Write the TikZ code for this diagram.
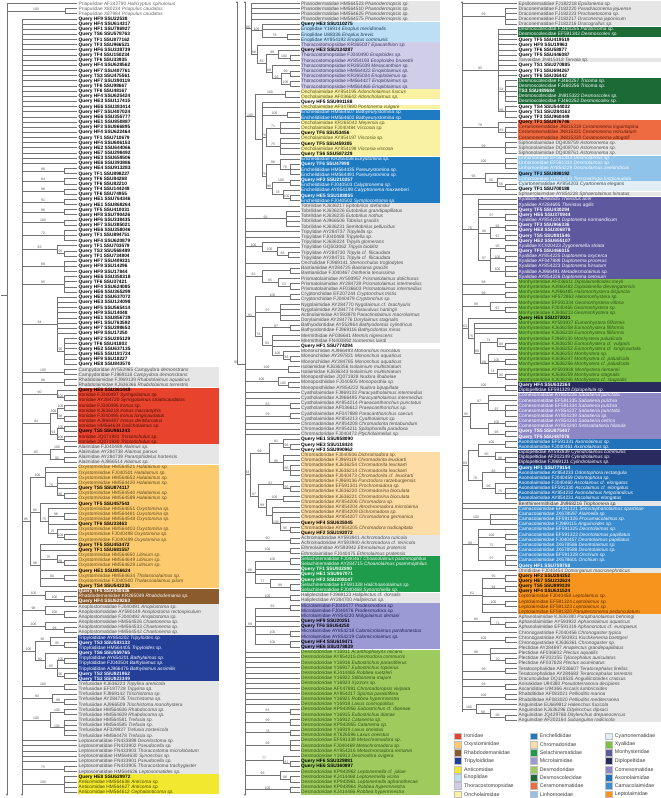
\documentclass[tikz,border=0pt]{standalone}
\usepackage{fontspec}
\setmainfont{Liberation Sans}
\usetikzlibrary{arrows.meta}
\definecolor{bGray}{HTML}{E6E6E6}
\definecolor{cIron}{HTML}{E8432D}
\definecolor{cOxy}{HTML}{FDCB6E}
\definecolor{cRhab}{HTML}{8C5B2B}
\definecolor{cTrip}{HTML}{243F98}
\definecolor{cAnti}{HTML}{F2E830}
\definecolor{cEnop}{HTML}{BCDFF5}
\definecolor{cThor}{HTML}{CFCDE8}
\definecolor{cOnch}{HTML}{F8F2A2}
\definecolor{cEnch}{HTML}{1F7BC1}
\definecolor{cChrom}{HTML}{FDDCA6}
\definecolor{cSela}{HTML}{1E9B4B}
\definecolor{cMicro}{HTML}{9B9AD4}
\definecolor{cDesmod}{HTML}{9DCB5E}
\definecolor{cDesmo}{HTML}{1C6B37}
\definecolor{cCeram}{HTML}{EE6A40}
\definecolor{cLinh}{HTML}{8FC3EA}
\definecolor{cCyart}{HTML}{E1EEF6}
\definecolor{cXya}{HTML}{5E599F}
\definecolor{cMonh}{HTML}{7BBF45}
\definecolor{cDiplo}{HTML}{292B5E}
\definecolor{cComes}{HTML}{8E87C6}
\definecolor{cAxon}{HTML}{2272B9}
\definecolor{cCama}{HTML}{3B8DD0}
\definecolor{cLepto}{HTML}{F7941E}
\definecolor{tGray}{HTML}{4D4D4D}
\definecolor{tIron}{HTML}{4A0E06}
\definecolor{tOxy}{HTML}{5C4A1E}
\definecolor{tAnti}{HTML}{4A4500}
\definecolor{tEnop}{HTML}{1F3D5C}
\definecolor{tThor}{HTML}{3A3A66}
\definecolor{tOnch}{HTML}{55501A}
\definecolor{tChrom}{HTML}{5C4526}
\definecolor{tMicro}{HTML}{1F1F5C}
\definecolor{tDesmod}{HTML}{2A5212}
\definecolor{tCeram}{HTML}{5C1A0A}
\definecolor{tCyart}{HTML}{3A4A55}
\definecolor{tLepto}{HTML}{5C2A00}
\tikzset{
 br/.style={draw=black!55,line width=0.4pt},
 arr/.style={draw=black!55,line width=0.4pt,-{Stealth[length=2.4pt,width=2.2pt]}},
 lab/.style={anchor=base west,inner sep=0pt,font=\fontsize{4.8}{5}\selectfont},
 sup/.style={anchor=south,inner sep=0.25pt,text=black!65,font=\fontsize{3.5}{3.5}\selectfont},
 legt/.style={anchor=west,inner sep=0pt,text=black!75,font=\fontsize{5.3}{6}\selectfont},
}
\newcommand\Y[1]{\cy+(#1-1)*\cs}
\newcommand\Tip[2]{\draw[br] (#1,{\Y{#2}}) -- (\xT,{\Y{#2}});}
\newcommand\Cl[5]{\draw[br] (#2,{\Y{#3}}) -- (#2,{\Y{#4}});
 \draw[br] (#1,{\Y{(#3+#4)/2}}) -- (#2,{\Y{(#3+#4)/2}});
 \node[sup] at ({(#1+#2)/2},{\Y{(#3+#4)/2}}) {#5};}
\newcommand\Cll[5]{\Cl{#1}{#2}{#3}{#4}{#5}\foreach \k in {#3,...,#4}{\Tip{#2}{\k}}}
\newcommand\Bd[3]{\fill[#3] (\xB,{\Y{#1}-0.5*\cs+0.2}) rectangle (\xE,{\Y{#2}+0.5*\cs-0.2});}
\newcommand\Lf[2]{\node[lab,text=\tc] (\cid#1) at (\xL,{\Y{#1}+1.7}) {#2};}
\newcommand\Qy[1]{\textbf{\textcolor{\qc}{Query #1}}}
\newcommand\Gn[1]{\textit{#1}}
\newcommand\Tcol[2]{\def\tc{#1}\def\qc{#2}}
\newcommand\Ql[2]{\Lf{#1}{\Qy{#2}}}
\newcommand\F[3]{\Lf{#1}{#2 \Gn{#3}}}
\newcommand\Col[6]{\def\cid{#1}\def\cs{#2}\def\xT{#3}\def\xB{#4}\def\xE{#5}\def\xL{#6}\def\cy{3.3}}
\newcommand\Leg[4]{\fill[#3,draw=black!25,line width=0.2pt] (#1,#2-3.4) rectangle (#1+7.2,#2+3.4);
 \node[legt] at (#1+10,#2) {#4};}
\begin{document}
\begin{tikzpicture}[x=1pt,y=-1pt]
\fill[white] (0,0) rectangle (661,798);
\useasboundingbox (0,0) rectangle (661,798);
%================ COLUMN 1
\Col{a}{5.155}{77}{78}{219}{78.5}
\Bd{72}{75}{bGray}\Bd{76}{86}{cIron}\Bd{87}{90}{bGray}\Bd{91}{114}{cOxy}
\Bd{115}{117}{cRhab}\Bd{118}{123}{bGray}\Bd{124}{132}{cTrip}\Bd{133}{143}{bGray}
\Bd{144}{150}{bGray}\Bd{151}{154}{cAnti}
% tree
\draw[br] (1,295) -- (7,295);
\draw[arr] (7,{\Y{1}}) -- (7,796);
\draw[arr] (22,{\Y{4}}) -- (22,796);
\Tip{7}{1}
\Cll{7}{65}{2}{3}{100}
\foreach \k in {4,...,32}{\Tip{22}{\k}}
\Cll{22}{64}{33}{34}{96}\Cll{22}{64}{35}{36}{84}\Cll{22}{64}{37}{38}{98}
\Cll{22}{64}{39}{40}{91}\Cll{22}{64}{41}{42}{98}\Cll{22}{64}{43}{44}{100}
\Cll{22}{64}{45}{47}{72}
\Cl{22}{57}{48}{49.5}{83}\Tip{57}{48}\Cll{57}{64}{49}{50}{95}
\Cll{22}{64}{51}{53}{88}\Cll{22}{64}{54}{57}{95}
\Cl{22}{57}{58}{68.5}{94}\foreach \k in {58,...,65}{\Tip{57}{\k}}\Cll{57}{64}{66}{71}{95}
\Cll{22}{64}{72}{73}{100}\Cll{22}{64}{74}{75}{88}
\Cl{22}{57}{76}{77.5}{90}\Tip{57}{76}\Cll{57}{64}{77}{78}{100}
\Cl{22}{50}{80.5}{84.5}{94}\Cl{50}{57}{79.5}{81.5}{100}\Cll{57}{64}{79}{80}{100}\Cll{57}{64}{81}{82}{98}
\Cl{50}{57}{83.5}{85.5}{91}\Cll{57}{64}{83}{84}{100}\Cll{57}{64}{85}{86}{100}
\Cl{22}{50}{87.5}{89.5}{85}\Cll{50}{64}{87}{88}{100}\Cll{50}{64}{89}{90}{90}
\Cl{22}{30}{92.875}{110}{85}
\Cl{30}{45}{91}{94.75}{100}\Tip{45}{91}\Tip{45}{92}\Cl{45}{57}{93}{96.5}{75}\Tip{57}{93}\Tip{57}{94}\Tip{57}{95}\Cll{57}{64}{96}{97}{80}
\Cl{30}{40}{98}{101.375}{80}\Tip{40}{98}\Cl{40}{48}{99}{103.75}{75}\Tip{48}{99}\Cll{48}{64}{100}{101}{98}\Tip{48}{102}
\Cl{48}{57}{103}{104.5}{75}\Tip{57}{103}\Cll{57}{64}{104}{105}{100}
\Cl{30}{40}{106}{114}{98}\Tip{40}{106}\Tip{40}{107}\Cl{40}{57}{108}{109.5}{75}\Tip{57}{108}\Cll{57}{64}{109}{110}{88}
\Tip{40}{111}\Cll{40}{64}{112}{113}{80}\Tip{40}{114}
\Cl{22}{45}{115}{116.5}{100}\Tip{45}{115}\Cll{45}{64}{116}{117}{100}
\Cl{22}{45}{118}{119.5}{98}\Tip{45}{118}\Cll{45}{64}{119}{120}{100}
\Cl{22}{45}{121}{122.5}{100}\Tip{45}{121}\Cll{45}{64}{122}{123}{98}
\Cl{22}{35}{124.75}{128.5}{100}\Cl{35}{50}{124}{125.5}{95}\Tip{50}{124}\Cll{50}{64}{125}{126}{95}
\Cl{35}{45}{127}{130}{92}\Tip{45}{127}\Cl{45}{57}{128.5}{131.5}{65}\Cll{57}{64}{128}{129}{100}\Tip{57}{130}\Cll{57}{64}{131}{132}{95}
\Cll{22}{64}{133}{134}{100}\Cl{22}{52}{135}{136.5}{94}\Tip{52}{135}\Cll{52}{64}{136}{137}{98}
\Cl{22}{50}{138.5}{141.5}{100}\Cll{50}{64}{138}{139}{100}\Cll{50}{64}{140}{143}{100}
\foreach \k in {144,...,148}{\Tip{22}{\k}}\Cll{22}{64}{149}{150}{75}
\Cll{22}{64}{151}{154}{100}
% labels
\Tcol{black!60}{black}
\F{1}{Priapulidae AF342790}{Halicryptus spinulosus}
\F{2}{Priapulidae X80234}{Priapulus caudatus}
\F{3}{Priapulidae X87984}{Priapulus caudatus}
\Tcol{black}{black}
\foreach \r/\q in {4/HF9 SSU22538,5/HF4 SSU614317,6/HF1 SSU786927,7/TS6 SSU578763,8/TF1 SSU877162,9/TF3 SSU966521,10/HF6 SSU338739,11/TF4 SSU150234,12/TF6 SSU33935,13/HF4 SSU628562,14/HF7 SSU407761,15/TS3 SSU475561,16/HF7 SSU390119,17/TF6 SSU98667,18/TF6 SSU48167,19/HF4 SSU625424,20/HE3 SSU117415,21/HE6 SSU383414,22/HF7 SSU407024,23/HE6 SSU355777,24/HE1 SSU850887,25/HF3 SSU866895,26/HF4 SSU622464,27/TF1 SSU710679,28/HF4 SSU606153,29/HE2 SSU644066,30/HE7 SSU298492,31/HE3 SSU659506,32/HE6 SSU393886,33/HE4 SSU913283,34/TF1 SSU898227,35/TF6 SSU84268,36/TF6 SSU82210,37/TF4 SSU144249,38/TF6 SSU74955,39/HE1 SSU764346,40/HE1 SSU868264,41/TF5 SSU410031,42/HF8 SSU790426,43/HF6 SSU338435,44/HF7 SSU385021,45/HE6 SSU358046,46/TF1 SSU894751,47/HF4 SSU620879,48/TF1 SSU703579,49/TS3 SSU568489,50/TF1 SSU734804,51/HF7 SSU409331,52/HF9 SSU14296,53/HF9 SSU17844,54/HE6 SSU358318,55/TF6 SSU37421,56/HF4 SSU624085,57/HE6 SSU365299,58/HE2 SSU637072,59/HE3 SSU124098,60/HF5 SSU565414,61/HF9 SSU14048,62/HE1 SSU856739,63/HF1 SSU763592,64/HF7 SSU398653,65/HF9 SSU17250,66/HF2 SSU205129,67/TF6 SSU41803,68/HE2 SSU637135,69/HE5 SSU181724,70/HF9 SSU18227,71/HE8 SSU843570}{\Ql{\r}{\q}}
\Tcol{tGray}{black}
\F{72}{Campydoridae AY552965}{Campydora demonstrans}
\F{73}{Campydoridae FJ969118}{Campydora demonstrans}
\F{74}{Rhabdolaimidae FJ969139}{Rhabdolaimus aquaticus}
\F{75}{Rhabdolaimidae KJ636366}{Rhabdolaimus terrestris}
\Tcol{tIron}{black}
\Ql{76}{HE6 SSU361449}
\F{77}{Ironidae FJ040497}{Syringolaimus sp.}
\F{78}{Ironidae AY284720}{Syringolaimus striatocaudatus}
\F{79}{Ironidae FJ040496}{Ironus sp.}
\F{80}{Ironidae KJ636218}{Ironus macramphis}
\F{81}{Ironidae FJ040495}{Ironus longicaudatus}
\F{82}{Ironidae AJ966487}{Ironus dentifurcatus}
\F{83}{Ironidae HM564634}{Dolicholaimus sp.}
\Ql{84}{TS5 SSU961243}
\F{85}{Ironidae JQ071931}{Trissonchulus sp.}
\F{86}{Ironidae JQ071930}{Trissonchulus sp.}
\Tcol{tGray}{black}
\F{87}{Alaimidae FJ040489}{Alaimus sp.}
\F{88}{Alaimidae AY284738}{Alaimus parvus}
\F{89}{Alaimidae AY284739}{Paramphidelus hortensis}
\F{90}{Alaimidae AJ966514}{Alaimus sp.}
\Tcol{tOxy}{black}
\F{91}{Oxystominidae HM564521}{Halalaimus sp.}
\F{92}{Oxystominidae FJ040501}{Halalaimus sp.}
\F{93}{Oxystominidae HM564652}{Halalaimus sp.}
\F{94}{Oxystominidae HM564420}{Halalaimus sp.}
\Ql{95}{TS5 SSU874117}
\F{96}{Oxystominidae HM564540}{Halalaimus sp.}
\F{97}{Oxystominidae HM564589}{Halalaimus sp.}
\Ql{98}{TF5 SSU457543}
\F{99}{Oxystominidae HM564651}{Oxystomina sp.}
\F{100}{Oxystominidae HM564481}{Oxystomina sp.}
\F{101}{Oxystominidae HM564548}{Oxystomina sp.}
\Ql{102}{TF6 SSU33463}
\F{103}{Oxystominidae HM564403}{Oxystomina sp.}
\F{104}{Oxystominidae FJ040498}{Oxystomina sp.}
\F{105}{Oxystominidae FJ040499}{Oxystomina sp.}
\Ql{106}{TF5 SSU453472}
\Ql{107}{TF1 SSU681557}
\F{108}{Oxystominidae HM564650}{Litinium sp.}
\F{109}{Oxystominidae HM564649}{Litinium sp.}
\F{110}{Oxystominidae HM564629}{Litinium sp.}
\Ql{111}{HE1 SSU856624}
\F{112}{Oxystominidae HM564634}{Thalassoalaimus sp.}
\F{113}{Oxystominidae FJ040500}{Thalassoalaimus pilum}
\Ql{114}{TS4 SSU543236}
\Tcol{white}{white}
\Ql{115}{TF5 SSU440436}
\F{116}{Rhabdodemaniidae KR265049}{Rhabdodemania sp.}
\Ql{117}{HF4 SSU629263}
\Tcol{tGray}{black}
\F{118}{Anoplostomatidae FJ040491}{Anoplostoma sp.}
\F{119}{Anoplostomatidae AY590149}{Anoplostoma rectospiculum}
\F{120}{Anoplostomatidae FJ040492}{Anoplostoma sp.}
\F{121}{Anoplostomatidae HM564526}{Chaetonema sp.}
\F{122}{Anoplostomatidae HM564533}{Chaetonema sp.}
\F{123}{Anoplostomatidae HM564542}{Chaetonema sp.}
\Tcol{white}{white}
\F{124}{Tripyloididae AY854202}{Tripyloides sp.}
\Ql{125}{TS3 SSU583133}
\F{126}{Tripyloididae HM564405}{Tripyloides sp.}
\Ql{127}{TS6 SSU559765}
\F{128}{Tripyloididae AY854201}{Bathylaimus sp.}
\F{129}{Tripyloididae FJ040504}{Bathylaimus sp.}
\F{130}{Tripyloididae AJ966476}{Bathylaimus assimilis}
\Ql{131}{TS2 SSU821962}
\Ql{132}{TS2 SSU823349}
\Tcol{tGray}{black}
\F{133}{Trefusiidae KJ636223}{Tripylina arenicola}
\F{134}{Trefusiidae EF197728}{Tripylina sp.}
\F{135}{Trefusiidae FJ969142}{Trischistoma sp.}
\F{136}{Trefusiidae AY284735}{Trischistoma sp.}
\F{137}{Trefusiidae AJ966509}{Trischistoma monohystera}
\F{138}{Trefusiidae HM564636}{Rhabdocoma sp.}
\F{139}{Trefusiidae HM564609}{Rhabdocoma sp.}
\F{140}{Trefusiidae HM564581}{Trefusia sp.}
\F{141}{Trefusiidae HM564585}{Trefusia sp.}
\F{142}{Trefusiidae AF329937}{Trefusia zostericola}
\F{143}{Trefusiidae HM564478}{Trefusia sp.}
\F{144}{Leptosomatidae FN433899}{Deontostoma sp.}
\F{145}{Leptosomatidae FN433902}{Pseudocella sp.}
\F{146}{Leptosomatidae FN433903}{Thoracostoma microlobatum}
\F{147}{Leptosomatidae HM564630}{Synonchus sp.}
\F{148}{Leptosomatidae FN433901}{Pseudocella sp.}
\F{149}{Leptosomatidae FN433905}{Thoracostoma trachygaster}
\F{150}{Leptosomatidae HM564626}{Leptosomatides sp.}
\Tcol{tAnti}{black}
\Ql{151}{HE8 SSU629972}
\F{152}{Anticomidae HM564638}{Anticoma sp.}
\F{153}{Anticomidae HM564627}{Anticoma sp.}
\F{154}{Anticomidae HM564612}{Cephalanticoma sp.}
%================ COLUMN 2
\Col{b}{5.19}{300}{300.5}{440}{301}
\Bd{1}{4}{bGray}\Bd{5}{8}{cEnop}\Bd{9}{17}{cThor}\Bd{18}{19}{cOnch}\Bd{21}{21}{cOnch}
\Bd{22}{23}{cEnch}\Bd{24}{30}{cOnch}\Bd{31}{39}{cEnch}\Bd{40}{66}{bGray}\Bd{68}{84}{bGray}
\Bd{88}{103}{cChrom}\Bd{104}{107}{bGray}\Bd{108}{114}{cSela}\Bd{115}{116}{bGray}
\Bd{117}{125}{cMicro}\Bd{126}{153}{cDesmod}
\draw[arr] (237,{\Y{70.5}}) -- (237,1);
\draw[arr] (245,400) -- (245,1);
\draw[arr] (245,400) -- (245,796);
\draw[br] (237,{\Y{70.5}}) -- (245,{\Y{70.5}});
\node[sup] at (236,{\Y{70.5}}) {99};
\Cl{245}{251}{1}{10.75}{88}\foreach \k in {1,...,4}{\Tip{251}{\k}}
\Cl{251}{262}{5}{7.5}{100}\Tip{262}{5}\Tip{262}{6}\Cll{262}{287}{7}{8}{76}
\Cl{251}{257}{9}{12.5}{88}\Tip{257}{9}\Cl{257}{266}{10.75}{14.25}{83}
\Cl{266}{278}{10}{11.5}{99}\Tip{278}{10}\Cll{278}{290}{11}{12}{100}
\Cl{266}{272}{13}{15.5}{88}\Tip{272}{13}\Cl{272}{281}{14.5}{16.5}{93}\Cll{281}{290}{14}{15}{99}\Cll{281}{290}{16}{17}{100}
\Cl{245}{255}{18.5}{27.16}{100}\Cll{255}{285}{18}{19}{100}
\Cl{255}{262}{20}{34.31}{}\Tip{262}{20}\Tip{262}{21}\Cll{262}{287}{22}{23}{100}
\Cl{262}{266}{25}{28.5}{76}\Cll{266}{280}{24}{26}{71}\Cll{266}{280}{27}{30}{75}
\Cl{262}{266}{32}{36.625}{75}\Cl{266}{280}{31}{33}{88}\Tip{280}{31}\Cll{280}{290}{32}{34}{76}
\Cl{266}{272}{35.5}{37.75}{88}\Cll{272}{290}{35}{36}{100}\Cl{272}{283}{37}{38.5}{78}\Tip{283}{37}\Cll{283}{290}{38}{39}{100}
\Tip{245}{40}\Cll{245}{286}{41}{44}{93}
\Tip{245}{45}\Tip{245}{46}\Cl{245}{262}{47}{48.75}{100}\Tip{262}{47}\Cl{262}{277}{48}{49.5}{100}\Tip{277}{48}\Cll{277}{288}{49}{50}{86}
\Tip{245}{51}
\Cl{245}{262}{52.5}{54.75}{62}\Cll{262}{290}{52}{53}{}\Cl{262}{278}{54}{55.5}{85}\Tip{278}{54}\Cll{278}{290}{55}{56}{53}
\Cl{245}{255}{57.5}{65.19}{91}\Cll{255}{290}{57}{58}{100}\Cll{255}{280}{59}{62}{97}
\Cl{255}{262}{63.5}{66.875}{76}\Cll{262}{290}{63}{64}{97}\Cl{262}{272}{65}{68.75}{93}\Tip{272}{65}\Tip{272}{66}\Tip{272}{67}
\Cl{272}{283}{68}{69.5}{100}\Tip{283}{68}\Cll{283}{290}{69}{70}{86}
\Cll{245}{288}{71}{72}{100}
\Cl{245}{278}{73}{74.5}{100}\Tip{278}{73}\Cll{278}{288}{74}{75}{100}
\Tip{245}{76}\Tip{245}{77}\Cll{245}{290}{78}{79}{83}\Cll{245}{290}{80}{81}{59}
\Tip{245}{82}\Tip{245}{83}\Tip{245}{84}
\Cl{245}{250}{87.6}{95.9}{84}
\Cl{250}{269}{85.75}{89.5}{69}
\Cl{269}{283}{85}{86.5}{91}\Tip{283}{85}\Cll{283}{290}{86}{87}{96}
\Cl{269}{283}{88}{91}{95}\Tip{283}{88}\Tip{283}{89}\Cll{283}{290}{90}{92}{85}
\Cl{250}{258}{93.75}{98.06}{97}
\Cl{258}{283}{93}{94.5}{87}\Tip{283}{93}\Cll{283}{290}{94}{95}{95}
\Cl{258}{266}{96.5}{99.625}{99}\Cll{266}{283}{96}{97}{100}\Cl{266}{272}{98}{101.25}{}\Tip{272}{98}\Tip{272}{99}
\Cl{272}{280}{100}{102.5}{100}\Tip{280}{100}\Tip{280}{101}\Cll{280}{290}{102}{103}{95}
\Cll{245}{290}{104}{105}{90}\Cll{245}{290}{106}{107}{100}
\Cl{245}{255}{108.5}{112.75}{86}\Cll{255}{290}{108}{109}{100}\Tip{255}{110}\Tip{255}{111}
\Cl{255}{270}{112}{113.5}{77}\Tip{270}{112}\Cll{270}{290}{113}{114}{98}
\Cll{245}{290}{115}{116}{100}
\Cl{245}{255}{117.5}{124.5}{99}\Cll{255}{290}{117}{118}{93}\Tip{255}{119}\Tip{255}{120}\Tip{255}{121}
\Cll{255}{290}{122}{123}{100}\Cll{255}{290}{124}{125}{100}
\foreach \k in {126,...,136}{\Tip{245}{\k}}
\Cll{245}{290}{137}{138}{83}\Cll{245}{290}{139}{140}{99}\Cll{245}{290}{141}{142}{78}\Cll{245}{290}{143}{145}{96}
\Cl{245}{283}{146}{147.5}{77}\Tip{283}{146}\Cll{283}{290}{147}{148}{87}
\Cl{245}{280}{149}{150.5}{93}\Tip{280}{149}\Cll{280}{290}{150}{151}{88}
\Cll{245}{290}{152}{153}{100}
% labels
\Tcol{tGray}{black}
\F{1}{Phanodermatidae HM564523}{Phanodermopsis sp.}
\F{2}{Phanodermatidae HM564510}{Phanodermopsis sp.}
\F{3}{Phanodermatidae HM564625}{Phanodermopsis sp.}
\F{4}{Phanodermatidae HM564575}{Phanodermopsis sp.}
\Tcol{tEnop}{black}
\Ql{5}{HE3 SSU110275}
\F{6}{Enoplidae Y16914}{Enoplus meridionalis}
\F{7}{Enoplidae U88336}{Enoplus brevis}
\F{8}{Enoplidae AY854192}{Enoplus communis}
\Tcol{tThor}{black}
\F{9}{Thoracostomopsidae KR265037}{Epacanthion sp.}
\Ql{10}{HE3 SSU124287}
\F{11}{Thoracostomopsidae FJ040490}{Enoploides sp.}
\F{12}{Thoracostomopsidae AY854193}{Enoploides brunettii}
\F{13}{Thoracostomopsidae KR265039}{Mesacanthion sp.}
\F{14}{Thoracostomopsidae HM564422}{Enoplolaimus sp.}
\F{15}{Thoracostomopsidae KR265034}{Enoplolaimus sp.}
\F{16}{Thoracostomopsidae HM564427}{Enoplolaimus sp.}
\F{17}{Thoracostomopsidae HM564466}{Enoplolaimus sp.}
\Tcol{tOnch}{black}
\F{18}{Oncholaimidae AY854195}{Adoncholaimus fuscus}
\F{19}{Oncholaimidae AF036642}{Adoncholaimus sp.}
\Ql{20}{HF5 SSU991188}
\F{21}{Oncholaimidae AF047890}{Pontonema vulgare}
\Tcol{white}{white}
\F{22}{Enchelidiidae HM564507}{Bathyeurystomina sp.}
\F{23}{Enchelidiidae HM564602}{Bathyeurystomina sp.}
\Tcol{tOnch}{black}
\F{24}{Oncholaimidae KR265042}{Meyersia sp.}
\F{25}{Oncholaimidae FJ040484}{Viscosia sp.}
\Ql{26}{TF6 SSU53456}
\F{27}{Oncholaimidae AY854197}{Viscosia sp.}
\Ql{28}{TF5 SSU459305}
\F{29}{Oncholaimidae AY854198}{Viscosia viscosa}
\Ql{30}{TS6 SSU587229}
\Tcol{white}{white}
\F{31}{Enchelidiidae KR265038}{Eurystomina sp.}
\Ql{32}{TF6 SSU47998}
\F{33}{Enchelidiidae HM564435}{Pareurystomina sp.}
\F{34}{Enchelidiidae HM564491}{Pareurystomina sp.}
\Ql{35}{HF2 SSU210357}
\F{36}{Enchelidiidae FJ040503}{Calyptronema sp.}
\F{37}{Enchelidiidae AY854199}{Calyptronema maxweberi}
\Ql{38}{HE5 SSU188855}
\F{39}{Enchelidiidae FJ040502}{Symplocostoma sp.}
\Tcol{tGray}{black}
\F{40}{Tobrilidae KJ636217}{Epitobrilus stefanskii}
\F{41}{Tobrilidae KJ636226}{Eutobrilus grandipapillatus}
\F{42}{Tobrilidae KJ636235}{Eutobrilus nothus}
\F{43}{Tobrilidae AJ966506}{Tobrilus gracilis}
\F{44}{Tobrilidae KJ636231}{Semitobrilus pellucidus}
\F{45}{Tripylidae AY284737}{Tripylella sp.}
\F{46}{Tripylidae FJ040488}{Tripylella sp.}
\F{47}{Tripylidae KJ636224}{Tripyla glomerans}
\F{48}{Tripylidae GQ503062}{Tripyla bioblitz}
\F{49}{Tripylidae AY284730}{Tripyla cf. filicaudata}
\F{50}{Tripylidae AY284731}{Tripyla cf. filicaudata}
\F{51}{Onchulidae FJ969141}{Stenonchulus troglodytes}
\F{52}{Bastianiidae AY284725}{Bastiania gracilis}
\F{53}{Bastianiidae FJ040467}{Dintheria tenuissima}
\F{54}{Prismatolaimidae AY593957}{Prismatolaimus dolichurus}
\F{55}{Prismatolaimidae AY284729}{Prismatolaimus intermedius}
\F{56}{Prismatolaimidae AF036603}{Prismatolaimus intermedius}
\F{57}{Cryptonchidae EF207244}{Cryptonchus tristis}
\F{58}{Cryptonchidae FJ040479}{Cryptonchus sp.}
\F{59}{Nygolaimidae AY284770}{Nygolaimus cf. brachyuris}
\F{60}{Nygolaimidae AY284774}{Paravulvus hartingii}
\F{61}{Actinolaimidae AY593978}{Paractinolaimus macrolaimus}
\F{62}{Dorylaimidae AY284776}{Dorylaimus stagnalis}
\F{63}{Bathyodontidae AY552964}{Bathyodontus cylindricus}
\F{64}{Bathyodontidae FJ969116}{Bathyodontus mirus}
\F{65}{Mermithidae AF036641}{Mermis nigrescens}
\F{66}{Mermithidae FN400892}{Isomermis lairdi}
\Ql{67}{HF1 SSU774294}
\F{68}{Mononchidae AJ966493}{Mononchus truncatus}
\F{69}{Mononchidae AY297821}{Mononchus aquaticus}
\F{70}{Mononchidae AY284765}{Mononchus aquaticus}
\F{71}{Isolaimidae KJ636356}{Isolaimium multistriatum}
\F{72}{Isolaimidae KJ636343}{Isolaimium multistriatum}
\F{73}{Monoposthiidae JQ071928}{Nudora ilhabelae}
\F{74}{Monoposthiidae FJ040505}{Monoposthia sp.}
\F{75}{Monoposthiidae AY854222}{Nudora bipapillata}
\F{76}{Cyatholaimidae FJ969133}{Paracyatholaimus intermedius}
\F{77}{Cyatholaimidae AJ966495}{Paracyatholaimus intermedius}
\F{78}{Cyatholaimidae AY854214}{Praeacanthonchus punctatus}
\F{79}{Cyatholaimidae AF036612}{Praeacanthonchus sp.}
\F{80}{Cyatholaimidae AF047888}{Paracanthonchus caecus}
\F{81}{Cyatholaimidae AY854213}{Cyatholaimus sp.}
\F{82}{Chromadoridae AY854208}{Chromadorita tentabundum}
\F{83}{Chromadoridae AY854211}{Spilophorella paradoxa}
\F{84}{Chromadoridae FJ040472}{Ptycholaimellus sp.}
\Ql{85}{HE1 SSU858090}
\Ql{86}{HE3 SSU118424}
\Ql{87}{HF3 SSU990962}
\Tcol{tChrom}{black}
\F{88}{Chromadoridae FJ040506}{Dichromadora sp.}
\F{89}{Chromadoridae FJ969119}{Chromadorita leuckarti}
\F{90}{Chromadoridae KJ636254}{Chromadorita leuckarti}
\F{91}{Chromadoridae KJ636214}{Chromadorita leuckarti}
\F{92}{Chromadoridae FJ040473}{Chromadorita cf. leuckarti}
\F{93}{Chromadoridae FJ969136}{Punctodora ratzeburgensis}
\F{94}{Chromadoridae EF591341}{Prochromadora sp.}
\F{95}{Chromadoridae KJ636220}{Chromadorina bioculata}
\F{96}{Chromadoridae KJ636221}{Chromadorina bioculata}
\F{97}{Chromadoridae AY854206}{Chromadora sp.}
\F{98}{Chromadoridae AY854204}{Atrochromadora microlaima}
\F{99}{Chromadoridae AY854209}{Dichromadora sp.}
\F{100}{Chromadoridae AY854207}{Chromadorina germanica}
\Ql{101}{HF4 SSU635045}
\F{102}{Chromadoridae AY854205}{Chromadora nudicapitata}
\Ql{103}{HF2 SSU192072}
\Tcol{tGray}{black}
\F{104}{Achromadoridae AY593941}{Achromadora ruricola}
\F{105}{Achromadoridae AY593940}{Achromadora cf. terricola}
\F{106}{Ethmolaimidae AY593942}{Ethmolaimus pratensis}
\F{107}{Ethmolaimidae FJ040475}{Ethmolaimus pratensis}
\Tcol{white}{white}
\F{108}{Selachinematidae FJ040467}{Choanolaimus psammophilus}
\F{109}{Selachinematidae AY284715}{Choanolaimus psammophilus}
\Ql{110}{TF1 SSU932890}
\Ql{111}{HE1 SSU867071}
\Ql{112}{HF2 SSU208147}
\F{113}{Selachinematidae EF591338}{Halichoanolaimus sp.}
\F{114}{Selachinematidae FJ040468}{Synonchiella sp.}
\Tcol{tGray}{black}
\F{115}{Haliplectidae FJ969123}{Haliplectus cf. dorsalis}
\F{116}{Haliplectidae AY284700}{Haliplectus sp.}
\Tcol{tMicro}{black}
\F{117}{Microlaimidae FJ040477}{Prodesmodora sp.}
\F{118}{Microlaimidae FJ040476}{Prodesmodora sp.}
\F{119}{Microlaimidae AY854220}{Molgolaimus demani}
\Ql{120}{HF9 SSU20251}
\Ql{121}{TF6 SSU54250}
\F{122}{Microlaimidae AY854218}{Calomicrolaimus parahonestus}
\F{123}{Microlaimidae AY854219}{Calomicrolaimus sp.}
\Ql{124}{HF4 SSU619471}
\Ql{125}{HE6 SSU378839}
\Tcol{tDesmod}{black}
\F{126}{Desmodoridae Y16911}{Acanthopharynx micans}
\F{127}{Desmodoridae AY854215}{Desmodora communis}
\F{128}{Desmodoridae Y16916}{Eubostrichus parasitiferus}
\F{129}{Desmodoridae Y16917}{Eubostrichus topiarius}
\F{130}{Desmodoridae KJ414465}{Robbea ruetzleri}
\F{131}{Desmodoridae Y16922}{Stilbonema majum}
\F{132}{Desmodoridae Y16923}{Xyzzors sp.}
\F{133}{Desmodoridae AF047891}{Chromadoropsis vivipara}
\F{134}{Desmodoridae AY854217}{Spirinia parasitifera}
\F{135}{Desmodoridae Y16921}{Robbea hypermnestra}
\F{136}{Desmodoridae Y16918}{Laxus cosmopolitus}
\F{137}{Desmodoridae KP943956}{Eubostrichus cf. dianeae}
\F{138}{Desmodoridae Y16915}{Eubostrichus dianae}
\F{139}{Desmodoridae Y16912}{Catanema sp.}
\F{140}{Desmodoridae KP943955}{Catanema sp.}
\F{141}{Desmodoridae Y16919}{Laxus oneistus}
\F{142}{Desmodoridae KT626596}{Laxus oneistus}
\F{143}{Desmodoridae EF591339}{Metachromadora sp.}
\F{144}{Desmodoridae FJ040469}{Metachromadora sp.}
\F{145}{Desmodoridae AY854216}{Metachromadora remanei}
\F{146}{Desmodoridae Y16913}{Desmodora ovigera}
\Ql{147}{HF6 SSU329881}
\Ql{148}{HE6 SSU360897}
\F{149}{Desmodoridae KP943962}{Leptonemella cf. juliae}
\F{150}{Desmodoridae KJ414468}{Leptonemella vicina}
\F{151}{Desmodoridae KP943961}{Leptonemella aphanothecae}
\F{152}{Desmodoridae KP943964}{Robbea hypermnestra}
\F{153}{Desmodoridae KJ414466}{Robbea hypermnestra}
%================ COLUMN 3
\Col{c}{5.156}{517}{518}{661}{518.5}
\Bd{1}{5}{bGray}\Bd{6}{7}{cDesmo}\Bd{12}{12}{bGray}\Bd{16}{20}{cDesmo}\Bd{24}{27}{cCeram}
\Bd{28}{30}{bGray}\Bd{31}{35}{cLinh}\Bd{36}{37}{cCyart}\Bd{38}{38}{bGray}\Bd{39}{54}{cXya}
\Bd{55}{74}{cMonh}\Bd{75}{76}{cDiplo}\Bd{77}{85}{cComes}\Bd{86}{87}{cAxon}\Bd{88}{90}{cDiplo}
\Bd{91}{97}{cAxon}\Bd{98}{98}{bGray}\Bd{99}{110}{cCama}\Bd{111}{111}{bGray}\Bd{112}{119}{cLepto}
\Bd{120}{140}{bGray}
\draw[arr] (462,{\Y{138.375}}) -- (462,1);
\Tip{462}{1}\Cll{462}{505}{2}{5}{69}
\Cl{462}{498}{6}{22}{95}\foreach \k in {6,...,15}{\Tip{498}{\k}}\Cll{498}{505}{16}{20}{54}\Cll{498}{505}{21}{23}{86}
\Cl{462}{498}{24}{26}{79}\Tip{498}{24}\Cll{498}{505}{25}{27}{83}
\Cll{462}{505}{28}{30}{99}\Cll{462}{505}{31}{33}{100}
\Cl{462}{485}{34}{35.75}{96}\Tip{485}{34}\Cl{485}{497}{35}{36.5}{56}\Tip{497}{35}\Cll{497}{505}{36}{37}{56}
\Tip{462}{38}
\Cl{462}{478}{39}{50.75}{76}\Tip{478}{39}\Tip{478}{40}\Tip{478}{41}\Cll{478}{505}{42}{43}{97}
\Cl{478}{490}{44.5}{46.5}{90}\Cll{490}{505}{44}{45}{96}\Cll{490}{505}{46}{47}{97}
\Cl{478}{490}{48.5}{53}{97}\Cll{490}{505}{48}{49}{95}\Cll{490}{505}{50}{51}{100}\Cll{490}{505}{52}{54}{100}
\Cll{462}{505}{55}{56}{98}\Cll{462}{505}{57}{58}{99}\Cl{462}{490}{59}{60.5}{99}\Tip{490}{59}\Cll{490}{505}{60}{61}{97}
\Cl{462}{468}{62}{65.9}{63}\Tip{468}{62}\Cl{468}{474}{63}{68.8}{75}\Tip{474}{63}\Tip{474}{64}\Tip{474}{65}
\Cl{474}{480}{66.75}{70.875}{89}\Cl{480}{497}{66}{67.5}{74}\Tip{497}{66}\Cll{497}{505}{67}{68}{80}
\Cl{480}{488}{69}{72.75}{88}\Tip{488}{69}\Cll{488}{505}{70}{71}{100}\Cl{488}{497}{72}{73.5}{74}\Tip{497}{72}\Cll{497}{505}{73}{74}{95}
\Cll{462}{505}{75}{76}{100}
\Cl{462}{470}{78.5}{83.5}{95}\Cl{470}{488}{77}{80}{97}\Tip{488}{77}\Tip{488}{78}\Cll{488}{505}{79}{81}{97}
\Cl{470}{488}{82.5}{84.5}{}\Cll{488}{505}{82}{83}{100}\Cll{488}{505}{84}{85}{96}
\Cl{462}{468}{87.6}{93.5}{89}\Cl{468}{478}{86.5}{88.75}{}\Cll{478}{505}{86}{87}{100}\Cl{478}{495}{88}{89.5}{85}\Tip{495}{88}\Cll{495}{505}{89}{90}{96}
\Cl{468}{482}{92}{95}{70}\Cll{482}{505}{91}{93}{82}\Cl{482}{495}{94}{96}{96}\Tip{495}{94}\Cll{495}{505}{95}{97}{75}
\Tip{462}{98}\Tip{462}{99}\Cll{462}{490}{100}{102}{100}
\Cl{462}{478}{103}{109}{99}\Tip{478}{103}\Cll{478}{505}{104}{105}{100}\Cll{478}{505}{106}{107}{75}\Cll{478}{505}{108}{110}{97}
\Tip{462}{111}
\Cl{462}{482}{112.5}{119}{62}\Cll{482}{505}{112}{113}{95}\Cll{482}{505}{114}{115}{94}\Tip{482}{116}\Cll{482}{505}{117}{118}{100}\Tip{482}{119}
\Cl{462}{490}{120}{121.5}{85}\Tip{490}{120}\Cll{490}{505}{121}{122}{71}
\Tip{462}{123}\Cll{462}{505}{124}{125}{100}
\Cl{462}{490}{126}{128.5}{98}\Tip{490}{126}\Tip{490}{127}\Cll{490}{505}{128}{129}{70}
\Cll{462}{505}{130}{131}{99}\Tip{462}{132}\Cll{462}{505}{133}{134}{98}\Cll{462}{505}{135}{136}{100}
\Cl{462}{476}{137}{138.75}{100}\Tip{476}{137}\Cl{476}{490}{138}{139.5}{98}\Tip{490}{138}\Cll{490}{505}{139}{140}{98}
% labels
\Tcol{tGray}{black}
\F{1}{Epsilonematidae FJ182218}{Epsilonema sp.}
\F{2}{Draconematidae FJ182220}{Paradraconema jejuense}
\F{3}{Draconematidae FJ182223}{Prochaetosoma sp.}
\F{4}{Draconematidae FJ182217}{Draconema japonicum}
\F{5}{Draconematidae FJ182216}{Dracograllus sp.}
\Tcol{white}{white}
\F{6}{Desmoscolecidae FJ460255}{Paratricoma sp.}
\F{7}{Desmoscolecidae EF591342}{Desmoscolex sp.}
\Tcol{tGray}{black}
\Ql{8}{TF5 SSU419519}
\Ql{9}{HF9 SSU19963}
\Ql{10}{TF6 SSU58877}
\Ql{11}{TF5 SSU446087}
\F{12}{Tarvaiidae JN815318}{Tarvaia sp.}
\Ql{13}{TS1 SSU270885}
\Ql{14}{TF1 SSU694267}
\Ql{15}{TF6 SSU36442}
\Tcol{white}{white}
\F{16}{Desmoscolecidae FJ460257}{Tricoma sp.}
\F{17}{Desmoscolecidae FJ460256}{Tricoma sp.}
\Lf{18}{\textbf{TS3 SSU489684}}
\F{19}{Desmoscolecidae JN815322}{Desmoscolex sp.}
\F{20}{Desmoscolecidae FJ460252}{Desmoscolex sp.}
\Tcol{black}{black}
\Ql{21}{TS4 SSU544032}
\Ql{22}{TS1 SSU284163}
\Ql{23}{TF3 SSU960449}
\Tcol{tCeram}{black}
\Ql{24}{TF1 SSU876746}
\F{25}{Ceramonematidae JN815319}{Ceramonema inguinispina}
\F{26}{Ceramonematidae JN815321}{Ceramonema reticulatum}
\F{27}{Ceramonematidae JN815320}{Ceramonema altogolfi}
\Tcol{tGray}{black}
\F{28}{Siphonolaimidae DQ408759}{Astomonema sp.}
\F{29}{Siphonolaimidae DQ408760}{Astomonema sp.}
\F{30}{Siphonolaimidae DQ408761}{Astomonema sp.}
\Tcol{white}{black}
\F{31}{Linhomoeidae EF591333}{Desmolaimus sp.}
\F{32}{Linhomoeidae EF591332}{Desmolaimus sp.}
\F{33}{Linhomoeidae AY854229}{Desmolaimus zeelandicus}
\Ql{34}{TF1 SSU888192}
\F{35}{Linhomoeidae AY854230}{Terschellingia longicaudata}
\Tcol{tCyart}{black}
\F{36}{Cyartonematidae AY854203}{Cyartonema elegans}
\Ql{37}{TF1 SSU700188}
\Tcol{tGray}{black}
\F{38}{Sphaerolaimidae AY854228}{Sphaerolaimus hirsutus}
\Tcol{white}{white}
\F{39}{Xyalidae AJ966505}{Theristus acer}
\F{40}{Xyalidae AY284695}{Theristus agilis}
\Ql{41}{TF5 SSU430294}
\Ql{42}{HE6 SSU370944}
\F{43}{Xyalidae AY854224}{Daptonema normandicum}
\Ql{44}{TF3 SSU966336}
\Ql{45}{HE8 SSU306878}
\Ql{46}{TS5 SSU881546}
\Ql{47}{HE2 SSU655107}
\F{48}{Xyalidae KC920423}{Zygonemella striata}
\Ql{49}{TF5 SSU466015}
\F{50}{Xyalidae AY854225}{Daptonema oxycerca}
\F{51}{Xyalidae AF047889}{Daptonema procerus}
\F{52}{Xyalidae AY854223}{Daptonema hirsutum}
\F{53}{Xyalidae AJ966491}{Metadesmolaimus sp.}
\F{54}{Xyalidae AY854226}{Daptonema setosum}
\Tcol{tDesmod}{black}
\F{55}{Monhysteridae AF036611}{Diplolaimelloides meyli}
\F{56}{Monhysteridae AJ966482}{Diplolaimella dievengatensis}
\F{57}{Monhysteridae AJ966485}{Halomonhystera disjuncta}
\F{58}{Monhysteridae HF572962}{Halomonhystera sp.}
\F{59}{Monhysteridae EF591334}{Geomonhystera villosa}
\F{60}{Monhysteridae FJ040465}{Geomonhystera sp.}
\F{61}{Monhysteridae KJ636213}{Geomonhystera sp.}
\Ql{62}{HE6 SSU372021}
\F{63}{Monhysteridae AY593937}{Eumonhystera filiformis}
\F{64}{Monhysteridae KJ636258}{Eumonhystera filiformis}
\F{65}{Monhysteridae KJ636219}{Eumonhystera filiformis}
\F{66}{Monhysteridae FJ969130}{Monhystera paludicola}
\F{67}{Monhysteridae KJ636250}{Eumonhystera cf. vulgaris}
\F{68}{Monhysteridae KJ636252}{Eumonhystera cf. longicaudata}
\F{69}{Monhysteridae KJ636253}{Monhystera sp.}
\F{70}{Monhysteridae KJ636247}{Monhystera cf. paludicola}
\F{71}{Monhysteridae KJ636256}{Monhystera cf. paludicola}
\F{72}{Monhysteridae AY593938}{Monhystera riemanni}
\F{73}{Monhysteridae KJ636259}{Monhystera stagnalis}
\F{74}{Monhysteridae KJ636246}{Monhystera cf. stagnalis}
\Tcol{white}{white}
\Ql{75}{HF4 SSU632364}
\F{76}{Diplopeltidae EF591329}{Diplopeltula sp.}
\F{77}{Comesomatidae AY854236}{Sabatieria punctata}
\F{78}{Comesomatidae EF591335}{Sabatieria pulchra}
\F{79}{Comesomatidae EF591334}{Sabatieria pulchra}
\F{80}{Comesomatidae AY854237}{Sabatieria punctata}
\F{81}{Comesomatidae AY854239}{Sabatieria sp.}
\F{82}{Comesomatidae AY854234}{Sabatieria celtica}
\F{83}{Comesomatidae AY854240}{Setosabatieria hilarula}
\Ql{84}{TS5 SSU875407}
\Ql{85}{TF5 SSU487076}
\F{86}{Axonolaimidae EF591331}{Axonolaimus sp.}
\F{87}{Axonolaimidae FJ040461}{Axonolaimus sp.}
\F{88}{Diplopeltidae AY593939}{Cylindrolaimus communis}
\F{89}{Diplopeltidae AF202149}{Cylindrolaimus sp.}
\F{90}{Diplopeltidae FJ969121}{Cylindrolaimus sp.}
\Ql{91}{HF1 SSU779154}
\F{92}{Axonolaimidae AY854233}{Odontophora rectangula}
\F{93}{Axonolaimidae FJ040459}{Odontophora sp.}
\F{94}{Axonolaimidae FJ040460}{Ascolaimus cf. elongatus}
\F{95}{Axonolaimidae EF591330}{Ascolaimus cf. elongatus}
\F{96}{Axonolaimidae AY854232}{Axonolaimus helgolandicus}
\F{97}{Axonolaimidae AY854231}{Ascolaimus elongatus}
\Tcol{black!85}{black}
\F{98}{Benthimermithidae JN968216}{Trophomera sp.}
\Tcol{white}{white}
\F{99}{Camacolaimidae EF591321}{Setostephanolaimus spartinae}
\F{100}{Camacolaimidae JX678597}{Alaimella sp.}
\F{101}{Camacolaimidae EF591326}{Procamacolaimus sp.}
\F{102}{Camacolaimidae FJ969115}{Anguinoides sp.}
\F{103}{Camacolaimidae EF591325}{Deontolaimus sp.}
\F{104}{Camacolaimidae EF591322}{Deontolaimus papillatus}
\F{105}{Camacolaimidae FJ040457}{Deontolaimus papillatus}
\F{106}{Camacolaimidae JX678586}{Deontolaimus sp.}
\F{107}{Camacolaimidae JX678588}{Deontolaimus sp.}
\F{108}{Camacolaimidae EF591328}{Onchium sp.}
\F{109}{Camacolaimidae JX678601}{Onchium sp.}
\Ql{110}{HF1 SSU759758}
\Tcol{tGray}{black}
\F{111}{Ohridiidae FJ040454}{Domorganus macronephriticus}
\Tcol{tLepto}{black}
\Ql{112}{HF2 SSU284352}
\Ql{113}{HE7 SSU232624}
\Ql{114}{TS5 SSU899339}
\Ql{115}{HF4 SSU631524}
\F{116}{Leptolaimidae FJ040458}{Leptolaimus sp.}
\F{117}{Leptolaimidae EF591324}{Leptolaimus sp.}
\F{118}{Leptolaimidae EF591323}{Leptolaimus sp.}
\F{119}{Leptolaimidae EF591320}{Paraplectonema pedunculatum}
\Tcol{tGray}{black}
\F{120}{Aphanolaimidae KJ636380}{Paraphanolaimus behningi}
\F{121}{Aphanolaimidae AY593932}{Aphanolaimus aquaticus}
\F{122}{Aphanolaimidae EF591319}{Aphanonotus cf. europaeus}
\F{123}{Chronogastridae FJ040456}{Chronogaster typica}
\F{124}{Chronogastridae AY593931}{Kischkenema boettgeri}
\F{125}{Chronogastridae KJ636361}{Chronogaster sp.}
\F{126}{Plectidae AY284697}{Anaplectus grandepapillatus}
\F{127}{Plectidae AF036602}{Plectus aquatilis}
\F{128}{Plectidae AF202155}{Tylocephalus auriculatus}
\F{129}{Plectidae AF037628}{Plectus acuminatus}
\F{130}{Teratocephalidae AF036607}{Teratocephalus lirellus}
\F{131}{Teratocephalidae AY284683}{Teratocephalus terrestris}
\F{132}{Dracunculidae DQ118535}{Anguillicoloides crassus}
\F{133}{Anisakidae U94380}{Pseudoterranova decipiens}
\F{134}{Ascarididae U94366}{Ascaris lumbricoides}
\F{135}{Rhabditidae AF083021}{Pellioditis marina}
\F{136}{Rhabditidae AF083020}{Pellioditis mediterranea}
\F{137}{Anguinidae EU669912}{Halenchus fucicola}
\F{138}{Anguinidae KJ636296}{Ditylenchus dipsaci}
\F{139}{Anguinidae JQ429768}{Ditylenchus drepanocercus}
\F{140}{Anguinidae AF202164}{Subanguina radicicola}
%================ LEGEND
\Leg{454}{736}{cIron}{Ironidae}
\Leg{454}{744.3}{cOxy}{Oxystominidae}
\Leg{454}{752.6}{cRhab}{Rhabdodemaniidae}
\Leg{454}{760.9}{cTrip}{Tripyloididae}
\Leg{454}{769.2}{cAnti}{Anticomidae}
\Leg{454}{777.5}{cEnop}{Enoplidae}
\Leg{454}{785.8}{cThor}{Thoracostomopsidae}
\Leg{454}{794.1}{cOnch}{Oncholaimidae}
\Leg{529.7}{736}{cEnch}{Enchelidiidae}
\Leg{529.7}{744.3}{cChrom}{Chromadoridae}
\Leg{529.7}{752.6}{cSela}{Selachinematidae}
\Leg{529.7}{760.9}{cMicro}{Microlaimidae}
\Leg{529.7}{769.2}{cDesmod}{Desmodoridae}
\Leg{529.7}{777.5}{cDesmo}{Desmoscolecidae}
\Leg{529.7}{785.8}{cCeram}{Ceramonematidae}
\Leg{529.7}{794.1}{cLinh}{Linhomoeidae}
\Leg{604.7}{736}{cCyart}{Cyartonematidae}
\Leg{604.7}{744.3}{cMonh}{Xyalidae}
\Leg{604.7}{752.6}{cXya}{Monhysteridae}
\Leg{604.7}{760.9}{cDiplo}{Diplopeltidae}
\Leg{604.7}{769.2}{cComes}{Comesomatidae}
\Leg{604.7}{777.5}{cAxon}{Axonolaimidae}
\Leg{604.7}{785.8}{cCama}{Camacolaimidae}
\Leg{604.7}{794.1}{cLepto}{Leptolaimidae}
\end{tikzpicture}
\end{document}
